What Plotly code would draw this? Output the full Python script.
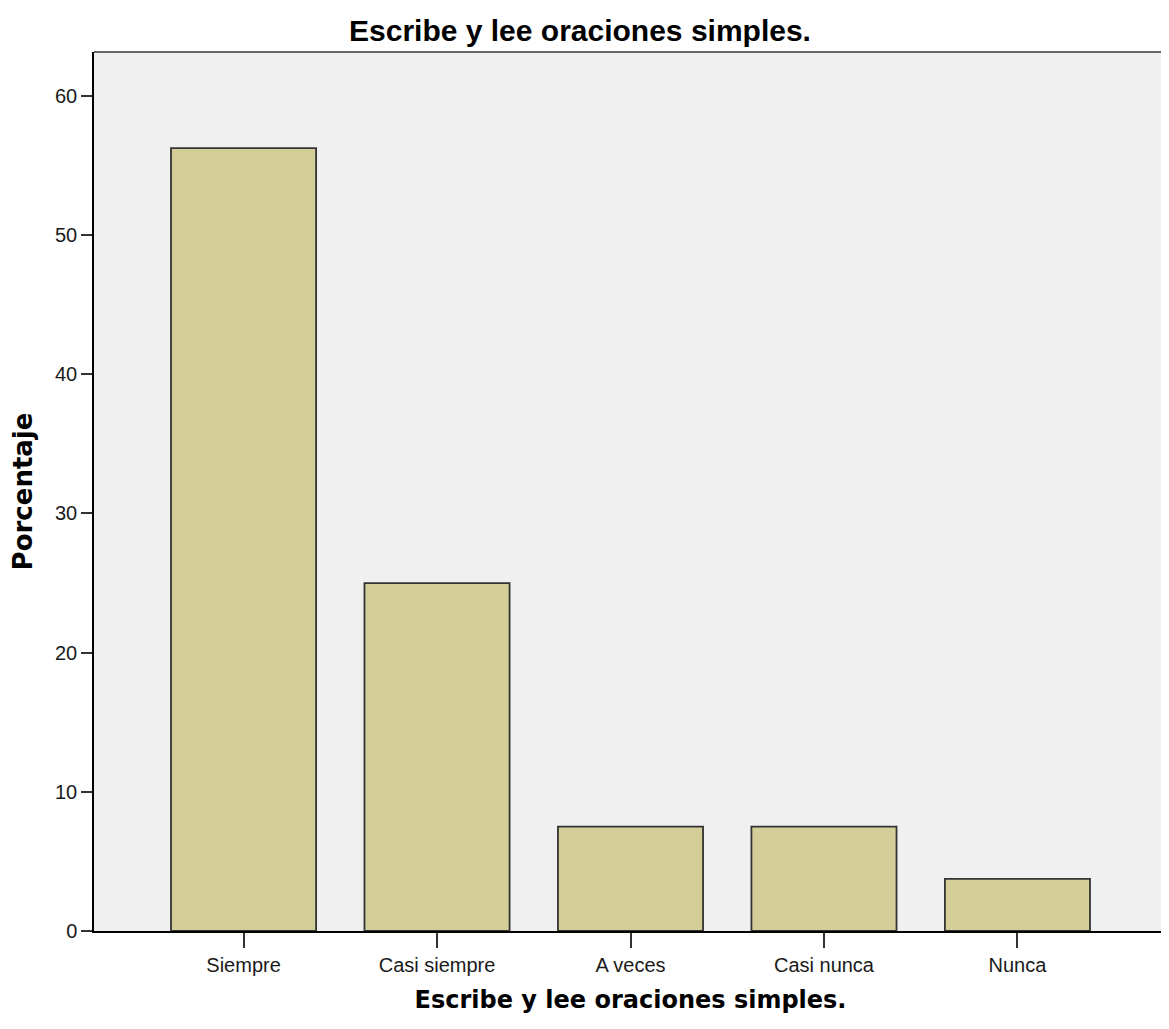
import plotly.graph_objects as go

categories = ["Siempre", "Casi siempre", "A veces", "Casi nunca", "Nunca"]
percentages = [56.25, 25.0, 7.5, 7.5, 3.75]
y_ticks = [0, 10, 20, 30, 40, 50, 60]
title_text = "Escribe y lee oraciones simples."
x_title = "Escribe y lee oraciones simples."
y_title = "Porcentaje"

W, H = 1161, 1021

fig = go.Figure(
    go.Bar(
        x=list(range(len(categories))),
        y=percentages,
        width=0.75,
        marker=dict(color="#d3ce97", line=dict(color="#333333", width=1.8)),
        hoverinfo="skip",
    )
)

fig.update_layout(
    width=W,
    height=H,
    margin=dict(l=86, r=2, t=44, b=98),
    paper_bgcolor="white",
    plot_bgcolor="#f0f0f0",
    showlegend=False,
    title=dict(
        text=title_text,
        x=572 / W, xanchor="center", yref="container", y=1 - 22 / H, yanchor="middle",
        font=dict(family="Liberation Sans", size=30, color="black", weight="bold"),
    ),
    xaxis=dict(
        range=[-0.773, 4.773],
        tickmode="array",
        tickvals=list(range(len(categories))),
        ticktext=categories,
        showgrid=False, zeroline=False,
        showline=True, linecolor="black", linewidth=1.5,
        ticks="outside", ticklen=15, tickwidth=1.5, tickcolor="#333",
        tickfont=dict(family="Liberation Sans", size=20, color="#1a1a1a"),
        title=dict(text=x_title, standoff=16,
                   font=dict(family="DejaVu Sans", size=24, color="black", weight="bold")),
    ),
    yaxis=dict(
        range=[0, 63.16],
        tickmode="array",
        tickvals=y_ticks,
        showgrid=False, zeroline=False,
        showline=True, linecolor="black", linewidth=1.5,
        ticks="outside", ticklen=11, tickwidth=1.5, tickcolor="#333",
        tickfont=dict(family="Liberation Sans", size=20, color="#1a1a1a"),
        title=dict(text=y_title, standoff=24,
                   font=dict(family="DejaVu Sans", size=26, color="black", weight="bold")),
    ),
    shapes=[
        dict(type="line", xref="paper", yref="paper", x0=0, x1=1, y0=1, y1=1,
             line=dict(color="#666", width=2)),
        dict(type="line", xref="paper", yref="paper", x0=1, x1=1, y0=0, y1=1,
             line=dict(color="#666", width=2)),
    ],
)

fig.write_html("out.html")
